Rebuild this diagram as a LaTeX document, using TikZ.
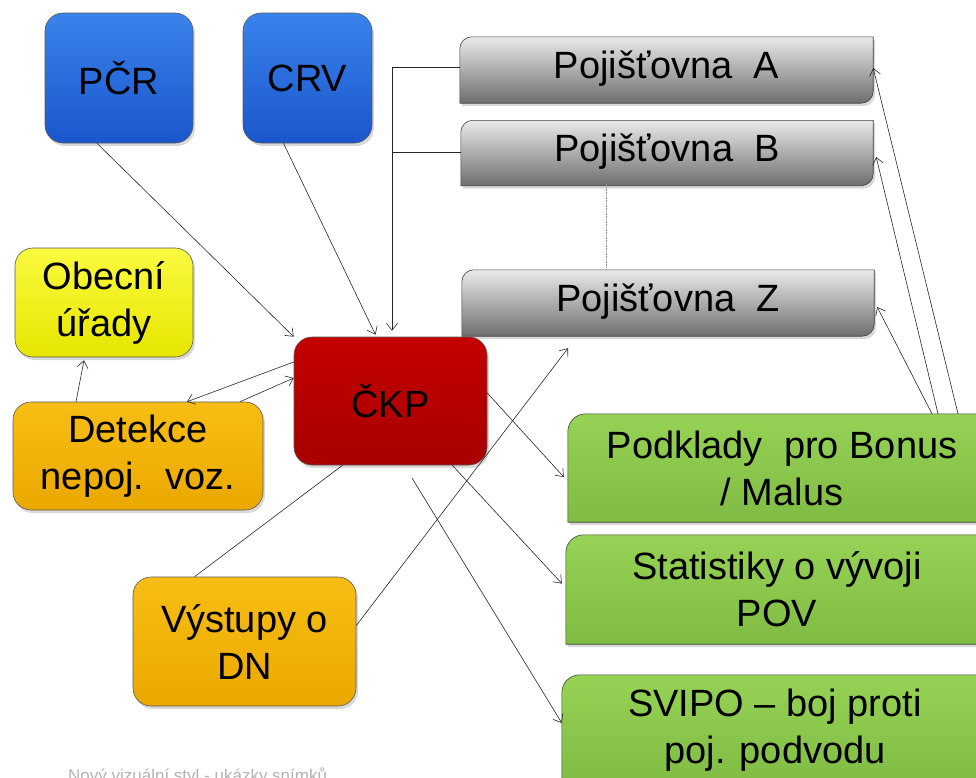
\documentclass[tikz,border=0pt]{standalone}
\usepackage{fontspec}
\setmainfont{Liberation Sans}
\usetikzlibrary{positioning,arrows.meta,shadows,backgrounds}

\definecolor{blueT}{HTML}{3A83EC}
\definecolor{blueB}{HTML}{1A56CC}
\definecolor{redT}{HTML}{C40000}
\definecolor{redB}{HTML}{A80000}
\definecolor{yellowT}{HTML}{FAFA40}
\definecolor{yellowB}{HTML}{E6E600}
\definecolor{orangeT}{HTML}{F8BE14}
\definecolor{orangeB}{HTML}{EAA800}
\definecolor{greenT}{HTML}{96D254}
\definecolor{greenB}{HTML}{80BC44}
\definecolor{grayT}{HTML}{EAEAEA}
\definecolor{grayB}{HTML}{6E6E6E}

\begin{document}
\begin{tikzpicture}[x=1pt, y=1pt,
        font=\fontsize{38}{47}\selectfont,
        box_style/.style={rounded corners=18pt, draw=black!65, line width=0.6pt,
            align=center, inner sep=0pt,
            drop shadow={opacity=0.3, shadow xshift=2pt, shadow yshift=-3pt}},
        text_style/.style={align=center, inner sep=0pt},
        shape_style/.style={draw=black!75, line width=0.6pt,
            drop shadow={opacity=0.3, shadow xshift=2pt, shadow yshift=-3pt}},
        edge_style/.style={draw=black!85, line width=0.6pt},
        arrow_style/.style={edge_style, -{Straight Barb[length=7pt, width=11pt]}}]
        \useasboundingbox (0,0) rectangle (976,-777);
        \clip (0,0) rectangle (976,-777);
        \node[box_style, top color=blueT, bottom color=blueB, minimum width=148pt, minimum height=130pt] (pcr) at (119,-78) {PČR};
        \node[box_style, top color=blueT, bottom color=blueB, minimum width=129pt, minimum height=130pt] (crv) at (307.5,-78) {CRV};
        \node[box_style, top color=yellowT, bottom color=yellowB, minimum width=178pt, minimum height=109pt] (obec) at (104,-302.5) {Obecní\\úřady};
        \node[box_style, top color=redT, bottom color=redB, minimum width=193pt, minimum height=128pt] (ckp) at (390.5,-401) {ČKP};
        \node[box_style, top color=orangeT, bottom color=orangeB, minimum width=250pt, minimum height=108pt] (det) at (138,-456) {Detekce\\nepoj.\ \ voz.};
        \node[box_style, top color=orangeT, bottom color=orangeB, minimum width=223pt, minimum height=129pt] (vys) at (244.5,-641.5) {Výstupy o\\DN};
        \node[text_style, minimum width=413pt, minimum height=64pt] (pA) at (666.5,-69) {Pojišťovna\ \ A};
        \node[text_style, minimum width=412pt, minimum height=63pt] (pB) at (667,-152) {Pojišťovna\ \ B};
        \node[text_style, minimum width=412pt, minimum height=64pt] (pZ) at (668,-302) {Pojišťovna\ \ Z};
        \node[text_style, minimum width=428pt, minimum height=108pt] (pod) at (782,-468) {Podklady\ \ pro Bonus\\/ Malus};
        \node[text_style, minimum width=422pt, minimum height=109pt] (stat) at (777,-589.5) {Statistiky o vývoji\\POV};
        \node[text_style, minimum width=426pt, minimum height=110pt] (svipo) at (775,-730) {SVIPO -- boj proti\\poj. podvodu};
        \node[anchor=base west, inner sep=0pt, text=black!30, font=\fontsize{17}{20}\selectfont] (footer) at (68,-781) {Nový vizuální styl - ukázky snímků};
        \begin{scope}[on background layer]
        \foreach \n in {pA,pB,pZ}
          \path[shape_style, top color=grayT, bottom color=grayB] ([yshift=-2pt]\n.south west) -- ([yshift=-12pt]\n.north west) arc[start angle=180, end angle=90, radius=12pt] -- (\n.north east) -- ([yshift=10pt]\n.south east) arc[start angle=0, end angle=-90, radius=12pt] -- cycle;
        \foreach \n in {pod,stat,svipo}
          \path[shape_style, top color=greenT, bottom color=greenB] (\n.south west) -- ([yshift=-18pt]\n.north west) arc[start angle=180, end angle=90, radius=18pt] -- (\n.north east) -- (\n.south east) -- cycle;
        \end{scope}
        \coordinate (sv_start) at (412,-478);
        \draw[arrow_style] ([xshift=-22pt]pcr.south) -- (ckp.north west);
        \draw[arrow_style] ([xshift=-24pt]crv.south) -- ([xshift=-15pt, yshift=2pt]ckp.north);
        \draw[arrow_style] ([yshift=2pt]pA.west) -| ([xshift=1.5pt, yshift=6pt]ckp.north);
        \draw[edge_style] (pB.west) -- ([xshift=1.5pt]pB.west -| ckp.north);
        \draw[edge_style, densely dotted, draw=black!45] ([xshift=-61pt]pB.south) -- ([xshift=-62pt]pZ.north);
        \draw[arrow_style] ([yshift=39pt]ckp.west) -- ([xshift=49pt]det.north);
        \draw[arrow_style] ([xshift=102pt]det.north) -- ([yshift=23pt]ckp.west);
        \draw[arrow_style] ([xshift=-62pt]det.north) -- ([xshift=-20pt, yshift=-3pt]obec.south);
        \draw[edge_style] ([xshift=-48pt]ckp.south) -- ([xshift=-50pt]vys.north);
        \draw[arrow_style] ([yshift=16pt]vys.east) -- ([xshift=-100pt, yshift=-14pt]pZ.south);
        \draw[arrow_style] ([yshift=8pt]ckp.east) -- ([xshift=-4pt, yshift=-9pt]pod.west);
        \draw[arrow_style] ([xshift=-35pt]ckp.south east) -- ([xshift=-4pt, yshift=6pt]stat.west);
        \draw[arrow_style] (sv_start) -- ([yshift=7pt]svipo.west);
        \draw[arrow_style] ([xshift=150pt]pod.north) -- ([xshift=3pt, yshift=-5pt]pZ.east);
        \draw[arrow_style] ([xshift=156pt]pod.north) -- ([xshift=3pt, yshift=-5pt]pB.east);
        \draw[arrow_style] ([xshift=176pt]pod.north) -- ([yshift=1pt]pA.east);
\end{tikzpicture}
\end{document}
